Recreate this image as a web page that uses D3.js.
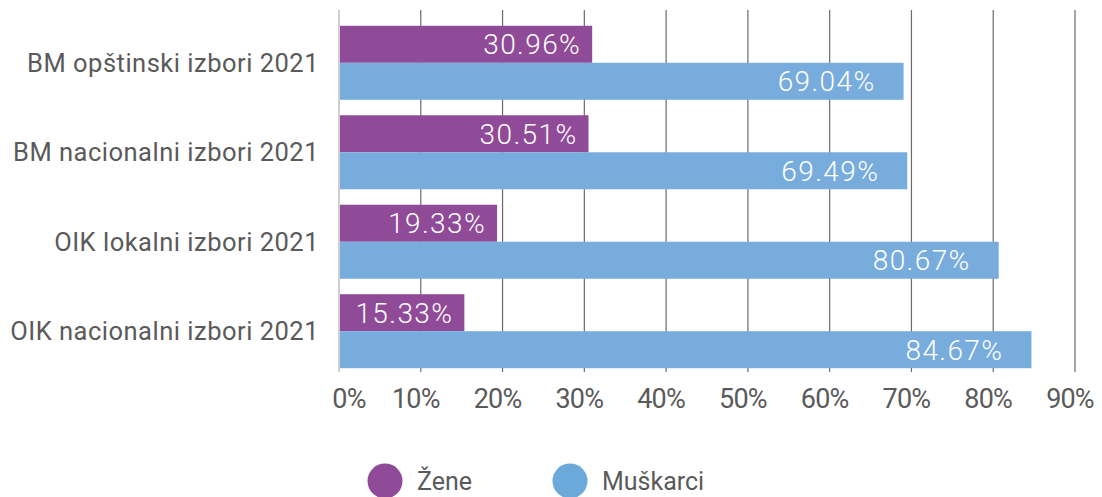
<!DOCTYPE html>
<html>
<head>
<meta charset="utf-8">
<script src="https://cdn.jsdelivr.net/npm/d3@7"></script>
<style>
  body { margin: 0; background: #fff; }
  svg { display: block; font-family: Roboto, "Noto Sans", sans-serif; }
</style>
</head>
<body>
<svg id="chart" width="1102" height="497"></svg>
<script>
'use strict';

const categories = [
    'BM opštinski izbori 2021',
    'BM nacionalni izbori 2021',
    'OIK lokalni izbori 2021',
    'OIK nacionalni izbori 2021'
];
const seriesNames = ['Žene', 'Muškarci'];
const zene = [30.96, 30.51, 19.33, 15.33];
const muskarci = [69.04, 69.49, 80.67, 84.67];
const tickValues = [0, 10, 20, 30, 40, 50, 60, 70, 80, 90];

const barColors = ['#8f4a98', '#77acdc'];
const legendColors = ['#8f4a98', '#6aa9da'];

const vis = d3.select('#chart');

const x = d3.scaleLinear().domain([0, 90]).range([339, 1075]);
const y = d3.scaleBand().domain(categories).range([18, 376])
    .paddingInner(0.173).paddingOuter(0.087);
const ySub = d3.scaleBand().domain(seriesNames).range([0, y.bandwidth()]);

const rows = categories.map((c, i) => ({cat: c, values: [zene[i], muskarci[i]]}));

// grid lines
vis.append('g')
    .selectAll('line')
    .data(tickValues.slice(1))
    .enter().append('line')
    .attr('x1', d => x(d)).attr('x2', d => x(d))
    .attr('y1', 10).attr('y2', 372)
    .attr('stroke', '#6b6b6b')
    .attr('stroke-width', 1.2);

// zero line
vis.append('line')
    .attr('x1', x(0)).attr('x2', x(0))
    .attr('y1', 10).attr('y2', 372)
    .attr('stroke', '#cfcfcf')
    .attr('stroke-width', 2);

const groups = vis.append('g')
    .selectAll('g')
    .data(rows)
    .enter().append('g')
    .attr('transform', d => `translate(0,${y(d.cat)})`);

const bars = groups.selectAll('g.bar')
    .data(d => d.values.map((v, j) => ({v: v, j: j, name: seriesNames[j]})))
    .enter().append('g')
    .attr('class', 'bar');

bars.append('rect')
    .attr('x', x(0) + 1)
    .attr('y', d => ySub(d.name))
    .attr('width', d => x(d.v) - x(0) - 1)
    .attr('height', ySub.bandwidth())
    .attr('fill', d => barColors[d.j]);

bars.append('text')
    .attr('x', d => x(d.v) - (d.j === 0 ? 11 : 28))
    .attr('y', d => ySub(d.name) + ySub.bandwidth() / 2)
    .attr('dy', '0.36em')
    .attr('text-anchor', 'end')
    .attr('fill', '#fff')
    .attr('font-size', 28)
    .attr('font-weight', 300)
    .attr('letter-spacing', 1.4)
    .text(d => d.v.toFixed(2) + '%');

// category labels
vis.append('g')
    .selectAll('text')
    .data(categories)
    .enter().append('text')
    .attr('x', 319)
    .attr('y', d => y(d) + y.bandwidth() / 2)
    .attr('dy', '0.36em')
    .attr('text-anchor', 'end')
    .attr('fill', '#5a5a5a')
    .attr('font-size', 25.5)
    .attr('letter-spacing', 0.5)
    .text(d => d);

// x tick labels
vis.append('g')
    .selectAll('text')
    .data(tickValues)
    .enter().append('text')
    .attr('x', d => x(d) + (d === 0 ? 10 : -5))
    .attr('y', 408)
    .attr('text-anchor', 'middle')
    .attr('fill', '#5a5a5a')
    .attr('font-size', 27)
    .attr('letter-spacing', -0.8)
    .text(d => d + '%');

// legend
const legendX = [385, 570];
const legend = vis.append('g')
    .selectAll('g')
    .data(seriesNames)
    .enter().append('g')
    .attr('transform', (d, i) => `translate(${legendX[i]},481)`);

legend.append('circle')
    .attr('r', 17.5)
    .attr('fill', (d, i) => legendColors[i]);

legend.append('text')
    .attr('x', 32)
    .attr('dy', '0.36em')
    .attr('fill', '#5a5a5a')
    .attr('font-size', 25)
    .text(d => d);
</script>
</body>
</html>
